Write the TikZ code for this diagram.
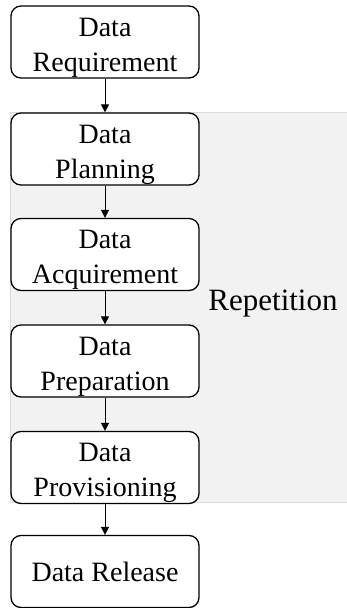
\documentclass[tikz,border=0pt]{standalone}
\usepackage{fontspec}
\setmainfont{Liberation Serif}
\usetikzlibrary{arrows.meta}
% two centred lines, drawn a little below the middle of the box
\newcommand{\stagetext}[2]{\raisebox{-4.5pt}[\height][\depth]{\begin{tabular}{@{}c@{}}#1\\#2\end{tabular}}}
\begin{document}
\begin{tikzpicture}[x=1pt,y=-1pt,
  stage/.style={draw=black, line width=1.3pt, rounded corners=10pt, fill=white,
    minimum width=188pt, minimum height=72pt, inner sep=0pt,
    font=\fontsize{28}{35}\selectfont},
  flow/.style={draw=black, line width=1pt, -{Triangle[length=8pt,width=8pt]}}]
  \useasboundingbox (0,0) rectangle (347,608);
  % shaded band for the repeated stages
  \fill[fill=black!5, draw=black!15, line width=0.8pt] (10,112) rectangle (350,502);
  \node[font=\fontsize{31}{37}\selectfont] (rep) at (273,304) {Repetition};
  \node[stage] (req)  at (105,42)    {\stagetext{Data}{Requirement}};
  \node[stage] (plan) at (105,149)   {\stagetext{Data}{Planning}};
  \node[stage] (acq)  at (105,254.5) {\stagetext{Data}{Acquirement}};
  \node[stage] (prep) at (105,361)   {\stagetext{Data}{Preparation}};
  \node[stage] (prov) at (105,467.5) {\stagetext{Data}{Provisioning}};
  \node[stage] (rel)  at (105,571.5) {Data Release};
  \draw[flow] (req)  -- (plan);
  \draw[flow] (plan) -- (acq);
  \draw[flow] (acq)  -- (prep);
  \draw[flow] (prep) -- (prov);
  \draw[flow] (prov) -- (rel);
\end{tikzpicture}
\end{document}
